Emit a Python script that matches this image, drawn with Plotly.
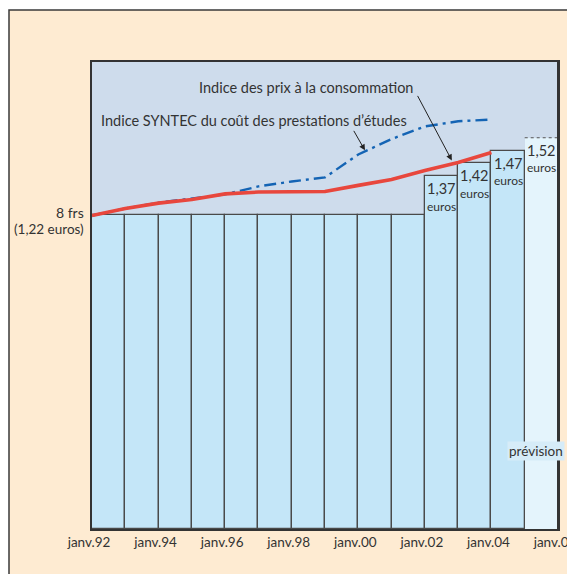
import plotly.graph_objects as go

# ---- data ----
bar_years = [1992, 1993, 1994, 1995, 1996, 1997, 1998, 1999, 2000, 2001, 2002, 2003, 2004]
bar_values = [1.22, 1.22, 1.22, 1.22, 1.22, 1.22, 1.22, 1.22, 1.22, 1.22, 1.37, 1.42, 1.47]
forecast_year = [2005]
forecast_value = [1.52]

line_years = [1992, 1993, 1994, 1995, 1996, 1997, 1998, 1999, 2000, 2001, 2002, 2003, 2004]
syntec = [1.218, 1.245, 1.266, 1.280, 1.302, 1.309, 1.310, 1.311, 1.335, 1.358, 1.393, 1.424, 1.463]
prix_conso = [1.218, 1.245, 1.268, 1.284, 1.300, 1.331, 1.350, 1.366, 1.455, 1.515, 1.564, 1.584, 1.591]

tick_years = [1992, 1994, 1996, 1998, 2000, 2002, 2004, 2006]
tick_labels = ["janv.92", "janv.94", "janv.96", "janv.98", "janv.00", "janv.02", "janv.04", "janv.06"]

price_labels = {2002: "1,37", 2003: "1,42", 2004: "1,47", 2005: "1,52"}

FONT = "Lato"
TXT = "#333333"

# ---- layout geometry (pixels); page has an 8px body margin ----
OFF = 8
W, H = 567, 566
L, R, T, B = 84, 17, 54, 45
pw, ph = W - L - R, H - T - B

def px_x(x):
    return (x - OFF - L) / pw

def px_y(y):
    return (H - B - (y - OFF)) / ph

fig = go.Figure()

fig.add_trace(go.Bar(
    x=bar_years, y=bar_values, width=1, offset=0,
    marker=dict(color="#C4E6F8", line=dict(color="#4a4a4a", width=1.3)),
    hoverinfo="skip", showlegend=False))

fig.add_trace(go.Bar(
    x=forecast_year, y=forecast_value, width=1, offset=0,
    marker=dict(color="#E4F4FC", line=dict(width=0)),
    hoverinfo="skip", showlegend=False))

fig.add_trace(go.Scatter(
    x=[forecast_year[0], forecast_year[0] + 1], y=[forecast_value[0], forecast_value[0]],
    mode="lines", line=dict(color="#555555", width=1, dash="dot"),
    hoverinfo="skip", showlegend=False))

fig.add_trace(go.Scatter(
    x=line_years, y=prix_conso, mode="lines",
    line=dict(color="#1464B4", width=2.4, dash="12px,5px,3px,5px"),
    hoverinfo="skip", showlegend=False))

fig.add_trace(go.Scatter(
    x=line_years, y=syntec, mode="lines",
    line=dict(color="#E8473D", width=3.6),
    hoverinfo="skip", showlegend=False))

shapes = [
    dict(type="rect", xref="paper", yref="paper",
         x0=px_x(9), x1=px_x(640), y0=px_y(640), y1=px_y(10),
         fillcolor="#FEEBD2", line=dict(color="#3a3a3a", width=1.5), layer="below"),
    dict(type="rect", xref="paper", yref="paper", x0=0, x1=1, y0=0, y1=1,
         fillcolor="#CEDCEC", line=dict(width=0), layer="below"),
    dict(type="line", xref="paper", yref="paper", x0=1, x1=1, y0=0, y1=1,
         line=dict(color="#333333", width=2), layer="above"),
]

annotations = []
# price labels on bars
all_years = bar_years + forecast_year
all_vals = bar_values + forecast_value
for yr, val in zip(all_years, all_vals):
    if yr in price_labels:
        annotations.append(dict(x=yr + 0.5, y=val, xref="x", yref="y",
                                text=price_labels[yr], showarrow=False,
                                yanchor="middle", yshift=-12.5,
                                font=dict(family=FONT, size=14.5, color=TXT)))
        annotations.append(dict(x=yr + 0.5, y=val, xref="x", yref="y",
                                text="euros", showarrow=False,
                                yanchor="middle", yshift=-30,
                                font=dict(family=FONT, size=12, color=TXT)))

annotations += [
    dict(x=px_x(86), y=bar_values[0], xref="paper", yref="y", text="8 frs",
         showarrow=False, xanchor="right", yanchor="middle", yshift=2,
         font=dict(family=FONT, size=14, color=TXT)),
    dict(x=px_x(86), y=bar_values[0], xref="paper", yref="y", text="(1,22 euros)",
         showarrow=False, xanchor="right", yanchor="middle", yshift=-14,
         font=dict(family=FONT, size=13.5, color=TXT)),
    dict(x=px_x(197), y=px_y(88), xref="paper", yref="paper",
         text="Indice des prix à la consommation", showarrow=False,
         xanchor="left", yanchor="middle",
         font=dict(family=FONT, size=14.5, color=TXT)),
    dict(x=px_x(99), y=px_y(120), xref="paper", yref="paper",
         text="Indice SYNTEC du coût des prestations d’études", showarrow=False,
         xanchor="left", yanchor="middle",
         font=dict(family=FONT, size=14.5, color=TXT)),
    dict(x=px_x(536), y=px_y(451), xref="paper", yref="paper",
         text="prévision", showarrow=False, xanchor="center", yanchor="middle",
         bgcolor="#D6ECF8", borderpad=1,
         font=dict(family=FONT, size=13.5, color=TXT)),
    # arrows
    dict(x=2002.81, y=1.432, xref="x", yref="y", text="", showarrow=True,
         ax=-35, ay=-66, axref="pixel", ayref="pixel",
         arrowhead=2, arrowsize=1.2, arrowwidth=1, arrowcolor="#222222",
         standoff=0, startstandoff=0),
    dict(x=2000.2, y=1.471, xref="x", yref="y", text="", showarrow=True,
         ax=-12, ay=-21, axref="pixel", ayref="pixel",
         arrowhead=2, arrowsize=1.2, arrowwidth=1, arrowcolor="#222222",
         standoff=0, startstandoff=0),
]

fig.update_layout(
    width=W, height=H,
    margin=dict(l=L, r=R, t=T, b=B, pad=0, autoexpand=False),
    paper_bgcolor="white", plot_bgcolor="rgba(0,0,0,0)",
    barmode="overlay", bargap=0,
    shapes=shapes, annotations=annotations,
    font=dict(family=FONT, size=13, color=TXT),
    xaxis=dict(range=[1992, 2006], tickvals=tick_years, ticktext=tick_labels,
               showgrid=False, zeroline=False, ticks="", showline=True,
               linecolor="#333333", linewidth=2, mirror=True,
               ticklabeloverflow="allow", automargin=False,
               tickfont=dict(family=FONT, size=13.5, color=TXT), ticklabelshift=-3),
    yaxis=dict(range=[0, ph / 257.4], showgrid=False, zeroline=False,
               showticklabels=False, ticks="", showline=True,
               linecolor="#333333", linewidth=2, mirror=True, automargin=False),
)

fig.write_html("out.html")
